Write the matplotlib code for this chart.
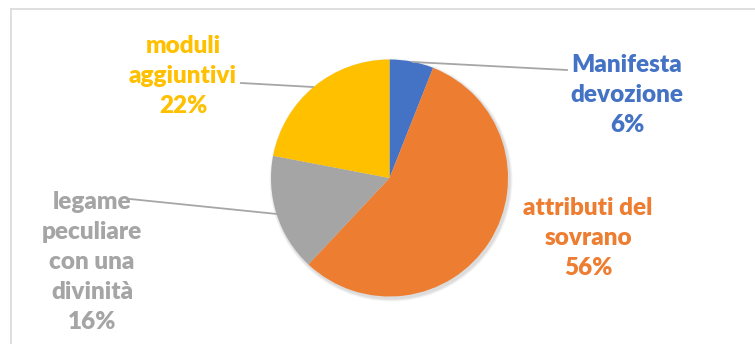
import matplotlib.pyplot as plt
from matplotlib.patches import Circle

# ----------------------------------------------------------
# Data
# ----------------------------------------------------------

categories = [
    "Manifesta\ndevozione",
    "attributi del\nsovrano",
    "legame\npeculiare\ncon una\ndivinità",
    "moduli\naggiuntivi",
]
values = [6, 56, 16, 22]
colors = ["#4472C4", "#ED7D31", "#A5A5A5", "#FFC000"]

# ----------------------------------------------------------
# Figure (pixel coordinates, y measured from the top)
# ----------------------------------------------------------

W, H = 755, 344
fig = plt.figure(figsize=(W / 100, H / 100), dpi=100)
ax = fig.add_axes([0, 0, 1, 1])
ax.set_xlim(0, W)
ax.set_ylim(0, H)
ax.set_aspect("equal")
ax.axis("off")


def py(y):
    return H - y


# chart frame
ax.plot([11, W], [py(9), py(9)], color="#D9D9D9", lw=1.2, zorder=1)
ax.plot([11, 11], [py(9), 0], color="#D9D9D9", lw=1.2, zorder=1)

cx, cy, r = 389.5, py(178), 118.5

# soft shadow
for i, a in enumerate([0.05, 0.05, 0.04]):
    ax.add_patch(Circle((cx + 1.5, cy - 2), r + 1 + i, color="black",
                        alpha=a, lw=0, zorder=2))

ax.pie(
    values,
    colors=colors,
    startangle=90,
    counterclock=False,
    center=(cx, cy),
    radius=r,
    frame=True,
    wedgeprops={"linewidth": 0, "zorder": 3},
)
ax.set_xlim(0, W)
ax.set_ylim(0, H)
ax.axis("off")

# leader lines
leader = "#A6A6A6"
ax.plot([413, 567], [py(62), py(70)], color=leader, lw=1.3, zorder=4)
ax.plot([241, 313], [py(83), py(87)], color=leader, lw=1.3, zorder=4)
ax.plot([130, 277], [py(199), py(214)], color=leader, lw=1.3, zorder=4)

# labels
label_pos = [(627, 95), (588, 238), (92, 262), (183, 76)]
for name, v, c, (lx, ly) in zip(categories, values, colors, label_pos):
    ax.text(
        lx, py(ly),
        f"{name}\n{v}%",
        ha="center", va="center",
        color=c, fontsize=17.5, fontweight="heavy",
        family="Lato", linespacing=1.44, zorder=5,
    )

plt.savefig("out.png", dpi=100)
plt.close()
